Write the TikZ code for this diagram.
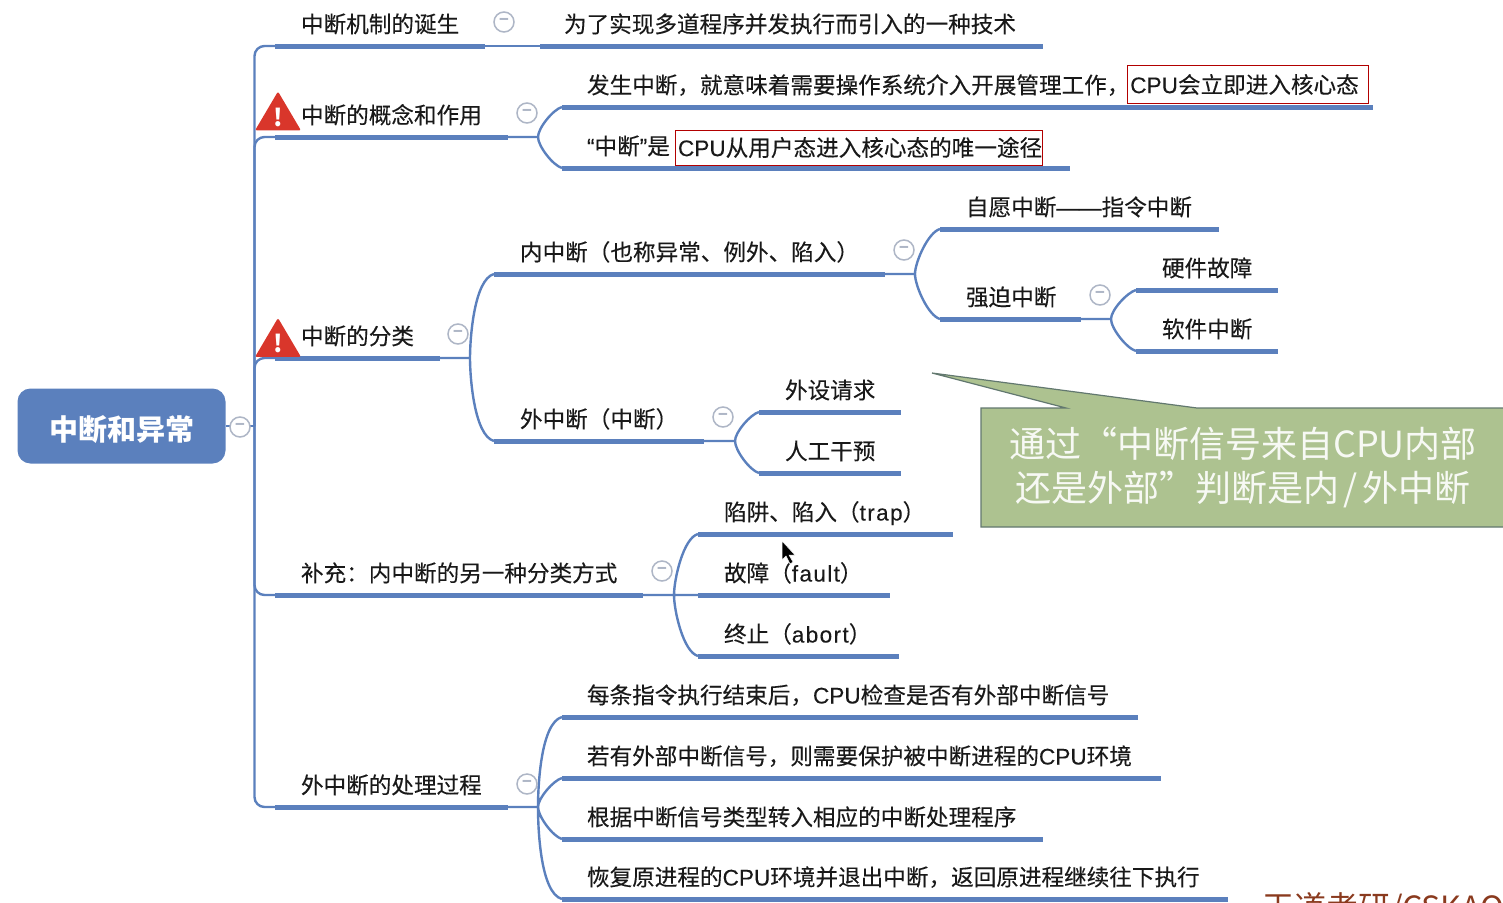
\documentclass[tikz,border=0pt]{standalone}
\usepackage{fontspec}
\setmainfont{Noto Sans CJK SC}
\newfontfamily\itemfont{Noto Sans CJK SC}[FakeBold=0.2]
\newfontfamily\latinfont{Liberation Sans}[FakeBold=0.2]
\newfontfamily\spacedfont{Liberation Sans}[FakeBold=0.2,LetterSpace=6]
\newcommand{\lat}[1]{{\latinfont #1}}
\newcommand{\spc}[1]{{\spacedfont #1}}
\usetikzlibrary{positioning, shapes.geometric}
\definecolor{mapblue}{HTML}{5B80BD}
\definecolor{foldgray}{HTML}{AEB6C6}
\definecolor{warnred}{HTML}{D9362B}
\definecolor{notegreen}{HTML}{ADC290}
\definecolor{noteedge}{HTML}{62786F}
\definecolor{marktext}{HTML}{8A3A1E}

\begin{document}
\begin{tikzpicture}[
        x=1pt, y=-1pt,
        every node/.style={
            inner sep=0pt,
            outer sep=0pt
        },
        rootbox/.style={
            rectangle,
            fill=mapblue,
            rounded corners=13pt,
            minimum width=208pt,
            minimum height=75pt,
            text height=28pt,
            text depth=0pt,
            text=white,
            font=\fontsize{29}{32}\selectfont\bfseries
        },
        bar/.style={
            rectangle,
            fill=mapblue,
            minimum width=#1pt,
            minimum height=5pt,
            anchor=west
        },
        itemtext/.style={
            anchor=west,
            xshift=26pt,
            yshift=19.5pt,
            text height=17pt,
            text depth=0pt,
            text=black!90,
            font=\fontsize{22.6}{26}\itemfont\selectfont
        },
        redbox/.style={
            rectangle,
            draw=red!70!black,
            thick,
            anchor=west,
            text=black!90,
            font=\fontsize{22.6}{26}\itemfont\selectfont
        },
        fold/.style={
            circle,
            draw=foldgray,
            fill=white,
            line width=1.5pt,
            minimum size=20pt,
            text=foldgray,
            font=\fontsize{16}{16}\selectfont\bfseries
        },
        link/.style={
            draw=mapblue,
            line width=2.4pt
        },
        up/.style={
            out=90,
            in=195,
            looseness=0.6
        },
        down/.style={
            out=-90,
            in=165,
            looseness=0.6
        },
        warn/.style={
            isosceles triangle,
            shape border rotate=90,
            isosceles triangle stretches,
            minimum width=46pt,
            minimum height=39pt,
            rounded corners=2pt,
            fill=warnred,
            text=white,
            font=\fontsize{24}{24}\selectfont\bfseries
        }
    ]
    \useasboundingbox (0,0) rectangle (1503,902);
    \clip (0,0) rectangle (1503,902);

    % 中心主题
    \node[rootbox] (root) at (121.5,426) {中断和异常};

    % 第一层
    \node[bar=210, label={[itemtext]north west:中断机制的诞生}] (birth) at (275,46) {};
    \node[bar=233, label={[itemtext]north west:中断的概念和作用}] (concept) at (275,137) {};
    \node[bar=165, label={[itemtext]north west:中断的分类}] (kinds) at (275,358) {};
    \node[bar=368, label={[itemtext]north west:补充：内中断的另一种分类方式}] (extra) at (275,595) {};
    \node[bar=233, label={[itemtext]north west:外中断的处理过程}] (process) at (275,807) {};

    % 诞生、概念
    \node[bar=503, label={[itemtext,xshift=-2pt]north west:为了实现多道程序并发执行而引入的一种技术}] (why) at (540,46) {};
    \node[bar=811, label={[itemtext,xshift=-1pt]north west:发生中断，就意味着需要操作系统介入开展管理工作，}] (enter) at (562,107) {};
    \node[bar=508, label={[itemtext,xshift=-1pt]north west:\lat{“}中断\lat{”}是}] (only) at (562,168) {};
    \node[redbox, minimum width=241pt, minimum height=38pt] (enterred) at (1127,84.5) {\hspace{-6pt}\lat{CPU}会立即进入核心态};
    \node[redbox, minimum width=366pt, minimum height=35pt] (onlyred) at (675,147.5) {\hspace{3pt}\lat{CPU}从用户态进入核心态的唯一途径};

    % 分类
    \node[bar=391, label={[itemtext]north west:内中断（也称异常、例外、陷入）}] (inner) at (494,274) {};
    \node[bar=210, label={[itemtext]north west:外中断（中断）}] (outer) at (494,441) {};
    \node[bar=279, label={[itemtext]north west:自愿中断\lat{——}指令中断}] (will) at (940,229) {};
    \node[bar=141, label={[itemtext]north west:强迫中断}] (force) at (940,319) {};
    \node[bar=142, label={[itemtext]north west:硬件故障}] (hard) at (1136,290) {};
    \node[bar=142, label={[itemtext]north west:软件中断}] (soft) at (1136,351) {};
    \node[bar=142, label={[itemtext]north west:外设请求}] (device) at (759,412) {};
    \node[bar=142, label={[itemtext]north west:人工干预}] (manual) at (759,473) {};

    % 另一种分类
    \node[bar=255, label={[itemtext]north west:陷阱、陷入（\spc{trap}）}] (trap) at (698,534) {};
    \node[bar=192, label={[itemtext]north west:故障（\spc{fault}）}] (fault) at (698,595) {};
    \node[bar=201, label={[itemtext]north west:终止（\spc{abort}）}] (abort) at (698,656) {};

    % 处理过程
    \node[bar=576, label={[itemtext,xshift=-1pt]north west:每条指令执行结束后，\lat{CPU}检查是否有外部中断信号}] (stepa) at (562,717) {};
    \node[bar=599, label={[itemtext,xshift=-1pt]north west:若有外部中断信号，则需要保护被中断进程的\lat{CPU}环境}] (stepb) at (562,778) {};
    \node[bar=481, label={[itemtext,xshift=-1pt]north west:根据中断信号类型转入相应的中断处理程序}] (stepc) at (562,839) {};
    \node[bar=666, label={[itemtext,xshift=-1pt]north west:恢复原进程的\lat{CPU}环境并退出中断，返回原进程继续往下执行}] (stepd) at (562,899) {};

    % 连线
    \draw[link] (root.east) -- ++(29,0) coordinate (hub);
    \draw[link, rounded corners=10pt] (hub) |- (birth.west);
    \draw[link, rounded corners=10pt] (hub) |- (concept.west);
    \draw[link, rounded corners=10pt] (hub) |- (kinds.west);
    \draw[link, rounded corners=10pt] (hub) |- (extra.west);
    \draw[link, rounded corners=10pt] (hub) |- (process.west);

    \draw[link] (birth.east) -- (why.west);
    \draw[link] (concept.east) -- ++(30,0) coordinate (jconcept) to[up] (enter.west)
        (jconcept) to[down] (only.west);
    \draw[link] (kinds.east) -- ++(30,0) coordinate (jkinds) to[up] (inner.west)
        (jkinds) to[down] (outer.west);
    \draw[link] (inner.east) -- ++(30,0) coordinate (jinner) to[up] (will.west)
        (jinner) to[down] (force.west);
    \draw[link] (force.east) -- ++(30,0) coordinate (jforce) to[up] (hard.west)
        (jforce) to[down] (soft.west);
    \draw[link] (outer.east) -- ++(31,0) coordinate (jouter) to[up] (device.west)
        (jouter) to[down] (manual.west);
    \draw[link] (extra.east) -- ++(31,0) coordinate (jextra) to[up] (trap.west)
        (jextra) -- (fault.west)
        (jextra) to[down] (abort.west);
    \draw[link] (process.east) -- ++(30,0) coordinate (jprocess) to[up] (stepa.west)
        (jprocess) to[up] (stepb.west)
        (jprocess) to[down] (stepc.west)
        (jprocess) to[down] (stepd.west);

    % 折叠按钮
    \node[fold] (foldroot) at (240,427) {−};
    \node[fold] (foldbirth) at (504,22) {−};
    \node[fold] (foldconcept) at (527,113) {−};
    \node[fold] (foldkinds) at (458,334) {−};
    \node[fold] (foldinner) at (904,250) {−};
    \node[fold] (foldforce) at (1100,295) {−};
    \node[fold] (foldouter) at (723,417) {−};
    \node[fold] (foldextra) at (662,571) {−};
    \node[fold] (foldprocess) at (527,784) {−};

    % 警告图标
    \node[warn] (warnconcept) at (278,117) {!};
    \node[warn] (warnkinds) at (278,343.5) {!};

    % 绿色批注
    \filldraw[fill=notegreen, draw=noteedge, line width=1.2pt]
        (981,408) -- (1066,408) -- (932,373) -- (1197,408) -- (1510,408)
        -- (1510,527) -- (981,527) -- cycle;
    \node[align=center, text=white!90!notegreen, font=\fontsize{36}{44}\selectfont] (note) at (1243,467)
        {通过“中断信号来自CPU内部\\还是外部”判断是内\hspace{4pt}/\hspace{4pt}外中断};

    % 鼠标
    \filldraw[fill=black, draw=white, line width=0.5pt]
        (782,541) -- (782,560) -- (786,556) -- (790,564) -- (793,562) -- (789,555) -- (795,555) -- cycle;

    % 水印
    \node[anchor=west, text=marktext, font=\fontsize{32}{34}\selectfont] (mark) at (1262,909) {王道考研/CSKAO};
\end{tikzpicture}
\end{document}
